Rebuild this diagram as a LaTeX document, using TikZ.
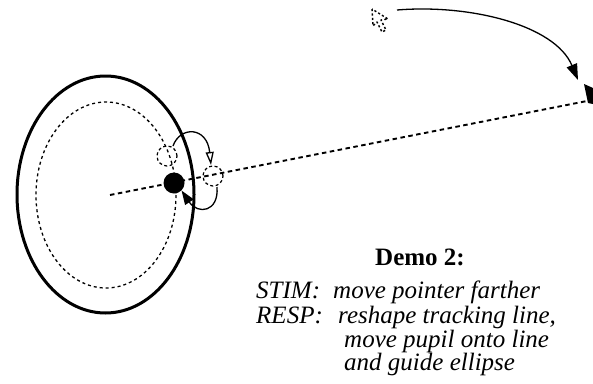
\documentclass[tikz,border=0pt]{standalone}
\usepackage{fontspec}
\setmainfont{Liberation Serif}
\usetikzlibrary{arrows.meta}
\begin{document}
\begin{tikzpicture}[x=1pt,y=-1pt,
  outerring/.style={line width=3pt},
  guide/.style={line width=1.3pt,dash pattern=on 3pt off 3pt},
  trackline/.style={line width=1.9pt,dash pattern=on 4.5pt off 3.5pt},
  ghost/.style={circle,draw,line width=1.2pt,dash pattern=on 3pt off 2.5pt,minimum size=20pt,inner sep=0pt},
  pupilstyle/.style={circle,fill=black,minimum size=21pt,inner sep=0pt},
  motion/.style={line width=1.3pt},
  txt/.style={anchor=base west,inner sep=0pt,font=\fontsize{25}{25}\selectfont\itshape}]
\useasboundingbox (0,0) rectangle (593,383);
% eye
\draw[outerring] (105.5,194.5) ellipse [x radius=88.5, y radius=118.5];
\draw[guide] (106,195) ellipse [x radius=70, y radius=93];
\coordinate (center) at (110,195);
\coordinate (lineend) at (587,101);
\draw[trackline] (center) -- (lineend);
% pupils
\node[ghost] (oldpupil) at (167,156) {};
\node[ghost] (target) at (213,176) {};
\node[pupilstyle] (pupil) at (174,183) {};
% small motion arrows
\coordinate (a1) at (173,146);
\coordinate (a2) at (211,165);
\draw[motion,-{Triangle[open,length=13pt,width=8pt]}] (a1) .. controls (180,126) and (207,126) .. (a2);
\coordinate (b1) at (217,187);
\draw[motion,-{Triangle[length=14pt,width=10pt]}] (b1) .. controls (219,212) and (198,215) .. (pupil.south east);
% pointer cursors
\draw[line width=1.4pt,dash pattern=on 2.2pt off 2.2pt,line join=round]
  (372,9) -- (373,26) -- (377,22) -- (382,32) -- (386,30) -- (381,20) -- (388,19) -- cycle;
\coordinate (p0) at (397,10);
\coordinate (p1) at (578,80);
\draw[motion,-{Triangle[length=16pt,width=11pt]}] (p0) .. controls (470,4) and (555,25) .. (p1);
\fill (584,84) -- (593,88) -- (593,104) -- (588,103) -- cycle;
% text
\node[anchor=base west,inner sep=0pt,font=\fontsize{25}{25}\selectfont\bfseries] (title) at (375,265) {Demo 2:};
\node[txt] (stim) at (256,298) {STIM:};
\node[txt] (stimtxt) at (333,298) {move pointer farther};
\node[txt] (resp) at (256,323) {RESP:};
\node[txt] (resptxt1) at (338,323) {reshape tracking line,};
\node[txt] (resptxt2) at (344,347) {move pupil onto line};
\node[txt] (resptxt3) at (344,370) {and guide ellipse};
\end{tikzpicture}
\end{document}
